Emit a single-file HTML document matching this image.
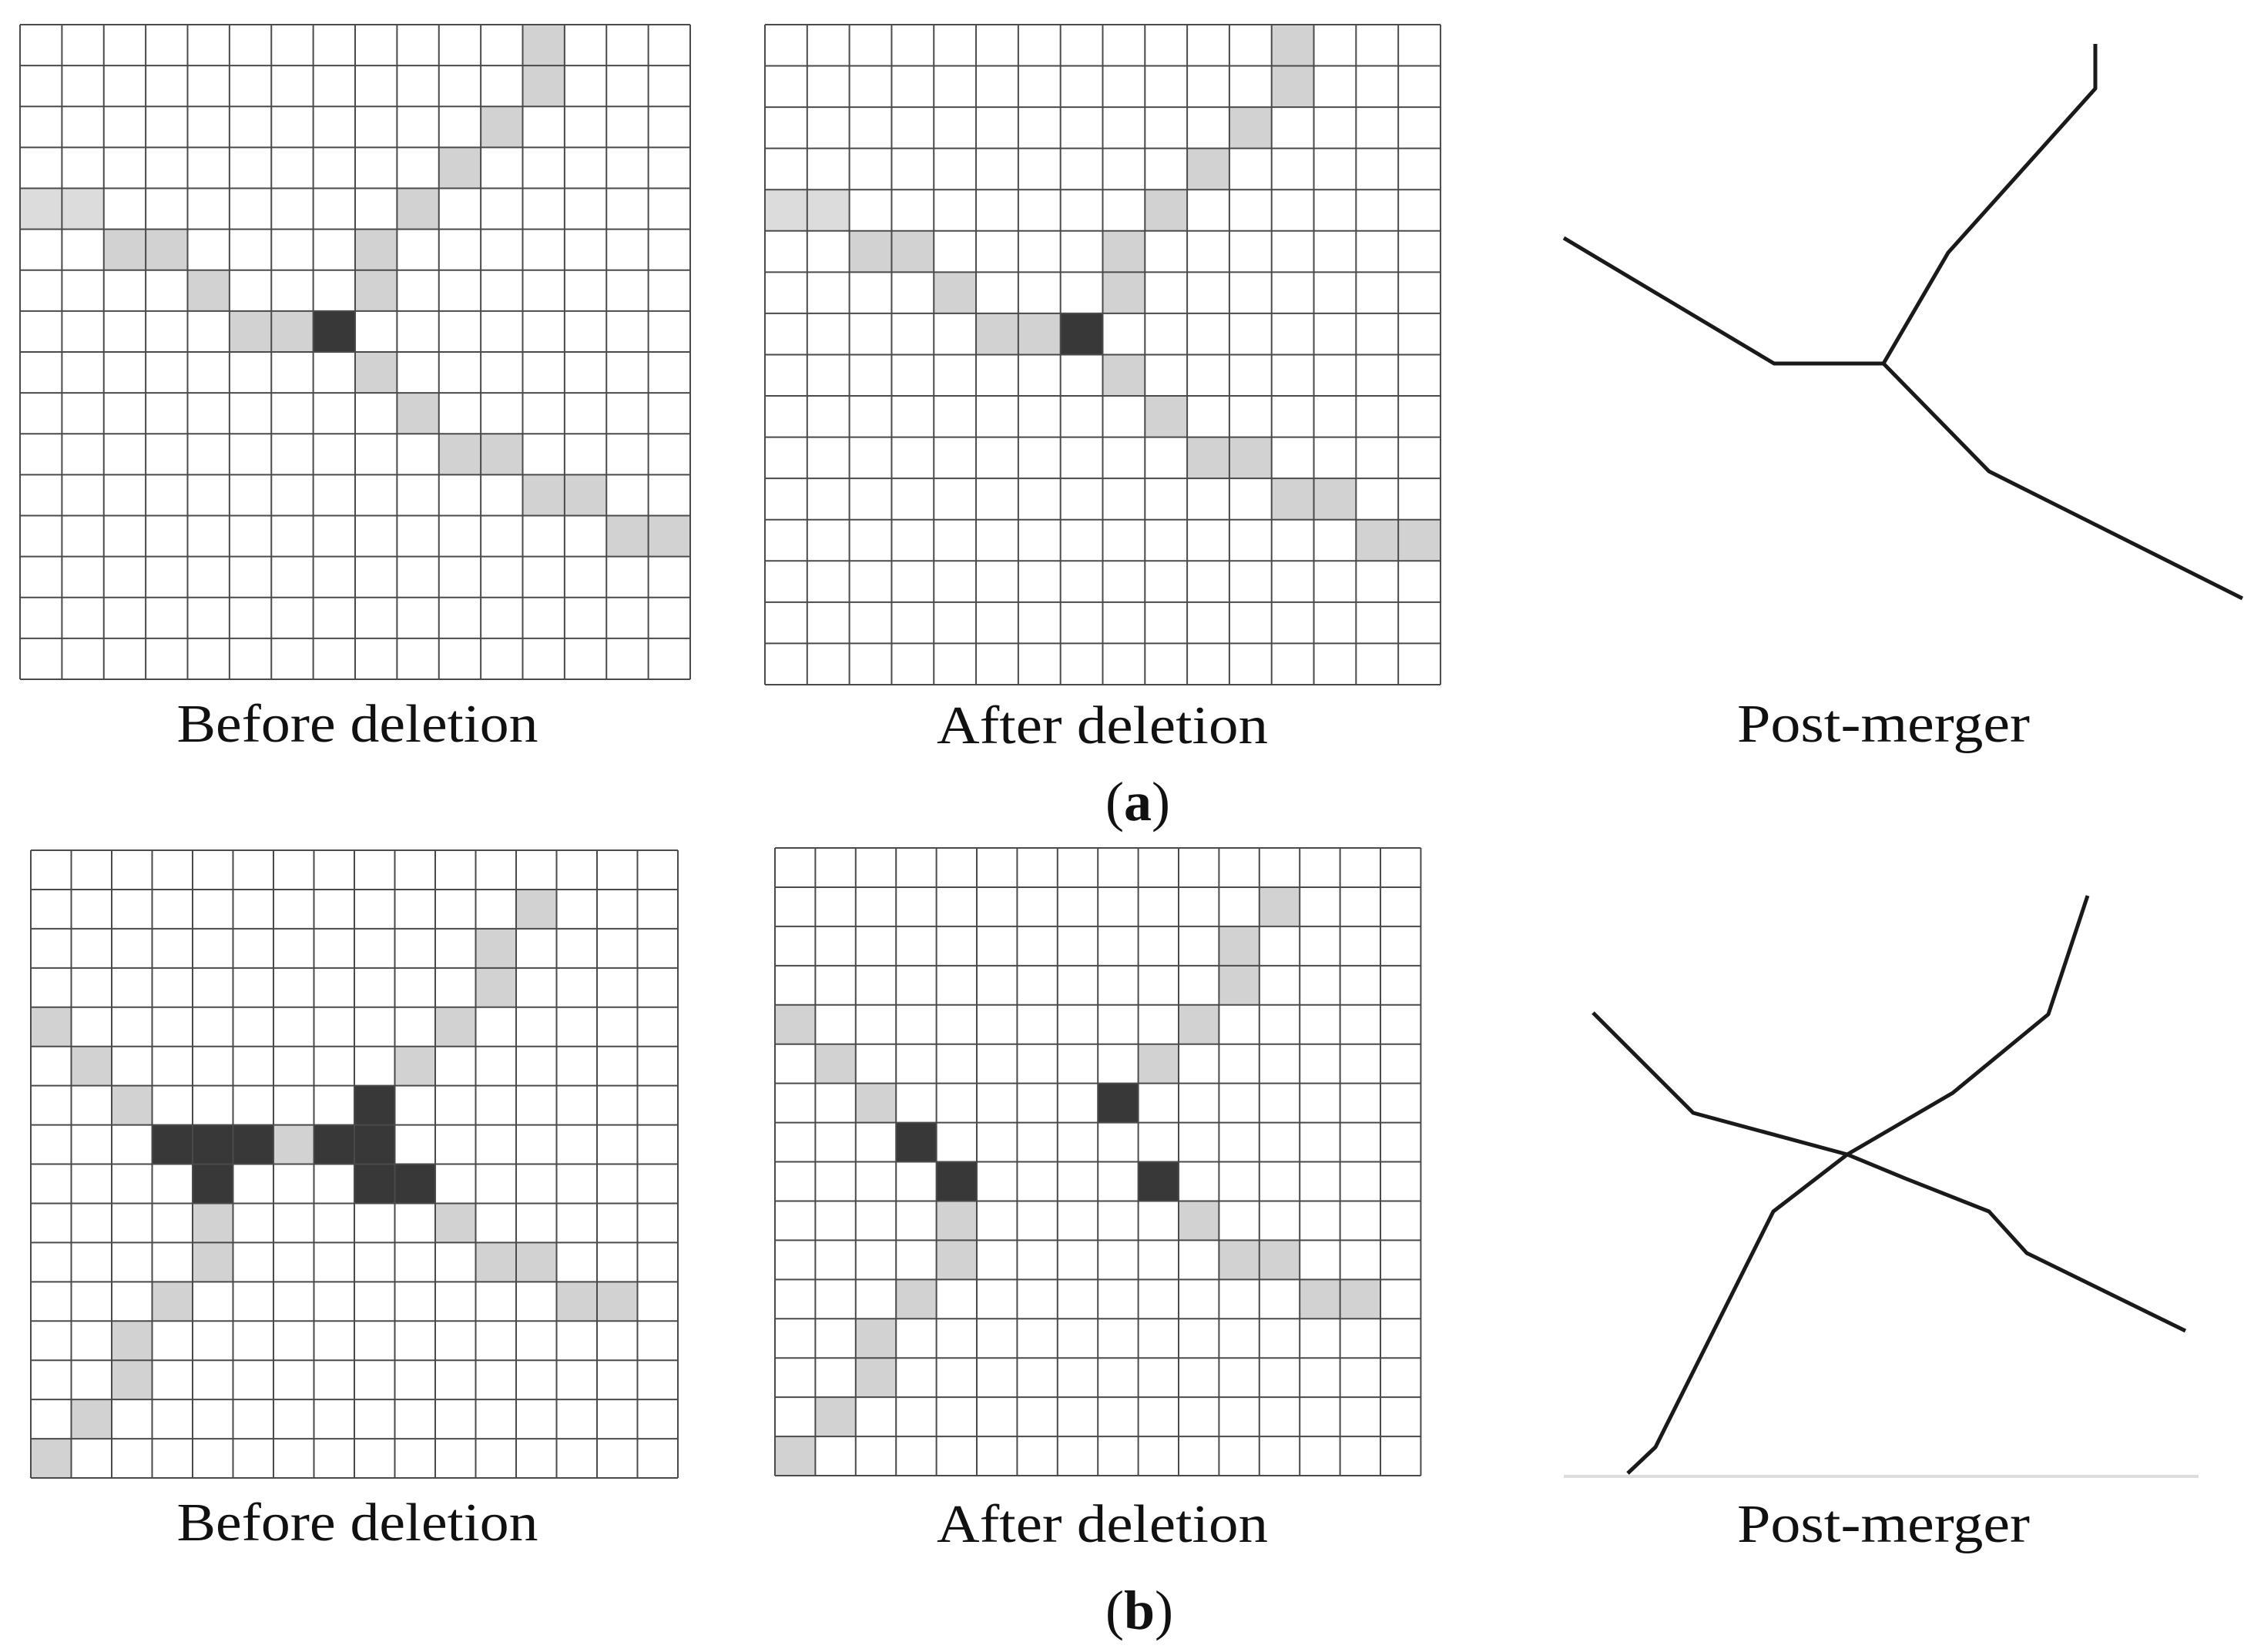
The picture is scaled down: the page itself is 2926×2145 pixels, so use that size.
<!DOCTYPE html>
<html><head><meta charset="utf-8"><style>
html,body{margin:0;padding:0;background:#fff;}
svg{display:block;}
text{font-family:"Liberation Serif","DejaVu Serif",serif;fill:#111;}
</style></head><body>
<svg width="2926" height="2145" viewBox="0 0 2926 2145" xmlns="http://www.w3.org/2000/svg">
<defs>
<path id="g" d="M0 0V16M1 0V16M2 0V16M3 0V16M4 0V16M5 0V16M6 0V16M7 0V16M8 0V16M9 0V16M10 0V16M11 0V16M12 0V16M13 0V16M14 0V16M15 0V16M16 0V16M0 0H16M0 1H16M0 2H16M0 3H16M0 4H16M0 5H16M0 6H16M0 7H16M0 8H16M0 9H16M0 10H16M0 11H16M0 12H16M0 13H16M0 14H16M0 15H16M0 16H16" fill="none" stroke="#4a4a4a" stroke-width="2" vector-effect="non-scaling-stroke"/>
<g id="ca">
<g fill="#d2d2d2">
<rect x="12" y="0" width="1" height="1"/><rect x="12" y="1" width="1" height="1"/><rect x="11" y="2" width="1" height="1"/><rect x="10" y="3" width="1" height="1"/><rect x="9" y="4" width="1" height="1"/>
<rect x="2" y="5" width="2" height="1"/><rect x="8" y="5" width="1" height="1"/><rect x="4" y="6" width="1" height="1"/><rect x="8" y="6" width="1" height="1"/><rect x="5" y="7" width="2" height="1"/>
<rect x="8" y="8" width="1" height="1"/><rect x="9" y="9" width="1" height="1"/><rect x="10" y="10" width="2" height="1"/><rect x="12" y="11" width="2" height="1"/><rect x="14" y="12" width="2" height="1"/>
</g>
<rect x="0" y="4" width="2" height="1" fill="#dcdcdc"/>
<rect x="7" y="7" width="1" height="1" fill="#383838"/>
</g>
<g id="cb">
<g fill="#d2d2d2">
<rect x="12" y="1" width="1" height="1"/><rect x="11" y="2" width="1" height="2"/><rect x="0" y="4" width="1" height="1"/><rect x="10" y="4" width="1" height="1"/>
<rect x="1" y="5" width="1" height="1"/><rect x="9" y="5" width="1" height="1"/><rect x="2" y="6" width="1" height="1"/>
<rect x="4" y="9" width="1" height="2"/><rect x="10" y="9" width="1" height="1"/><rect x="11" y="10" width="2" height="1"/><rect x="3" y="11" width="1" height="1"/><rect x="13" y="11" width="2" height="1"/>
<rect x="2" y="12" width="1" height="2"/><rect x="1" y="14" width="1" height="1"/><rect x="0" y="15" width="1" height="1"/>
</g>
</g>
</defs>

<g transform="translate(26,32) scale(54.375,53.125)">
<use href="#ca"/><use href="#g"/>
</g>
<g transform="translate(993,32) scale(54.81,53.56)">
<use href="#ca"/><use href="#g"/>
</g>
<g transform="translate(40,1104) scale(52.5,50.94)">
<use href="#cb"/>
<g fill="#383838"><rect x="8" y="6" width="1" height="1"/><rect x="3" y="7" width="3" height="1"/><rect x="6" y="7" width="1" height="1" fill="#d2d2d2"/><rect x="7" y="7" width="2" height="1"/><rect x="4" y="8" width="1" height="1"/><rect x="8" y="8" width="2" height="1"/></g>
<use href="#g"/>
</g>
<g transform="translate(1006,1101) scale(52.4,50.94)">
<use href="#cb"/>
<g fill="#383838"><rect x="8" y="6" width="1" height="1"/><rect x="3" y="7" width="1" height="1"/><rect x="4" y="8" width="1" height="1"/><rect x="9" y="8" width="1" height="1"/></g>
<use href="#g"/>
</g>

<g fill="none" stroke="#1a1a1a" stroke-width="5" stroke-linejoin="round">
<polyline points="2720,57 2720,115 2529,328 2445,472"/>
<polyline points="2030,309 2303,472 2445,472 2582,612 2911,777"/>
<polyline points="2710,1163 2659,1317 2535,1419 2398,1499 2302,1573 2149,1879 2113,1913"/>
<polyline points="2068,1315 2198,1445 2398,1499 2473,1530 2582,1573 2631,1627 2837,1728"/>
</g>
<line x1="2030" y1="1917" x2="2854" y2="1917" stroke="#dddddd" stroke-width="4"/>

<g font-size="70" text-anchor="middle">
<text x="464" y="963" textLength="469" lengthAdjust="spacingAndGlyphs">Before deletion</text>
<text x="1431" y="965" textLength="430" lengthAdjust="spacingAndGlyphs">After deletion</text>
<text x="2445" y="963" textLength="380" lengthAdjust="spacingAndGlyphs">Post-merger</text>
<text x="464" y="2000" textLength="469" lengthAdjust="spacingAndGlyphs">Before deletion</text>
<text x="1431" y="2002" textLength="430" lengthAdjust="spacingAndGlyphs">After deletion</text>
<text x="2445" y="2002" textLength="380" lengthAdjust="spacingAndGlyphs">Post-merger</text>
</g>
<g font-size="72" text-anchor="middle">
<text x="1477" y="1065">(<tspan font-weight="bold">a</tspan>)</text>
<text x="1479" y="2115">(<tspan font-weight="bold">b</tspan>)</text>
</g>
</svg>
</body></html>
